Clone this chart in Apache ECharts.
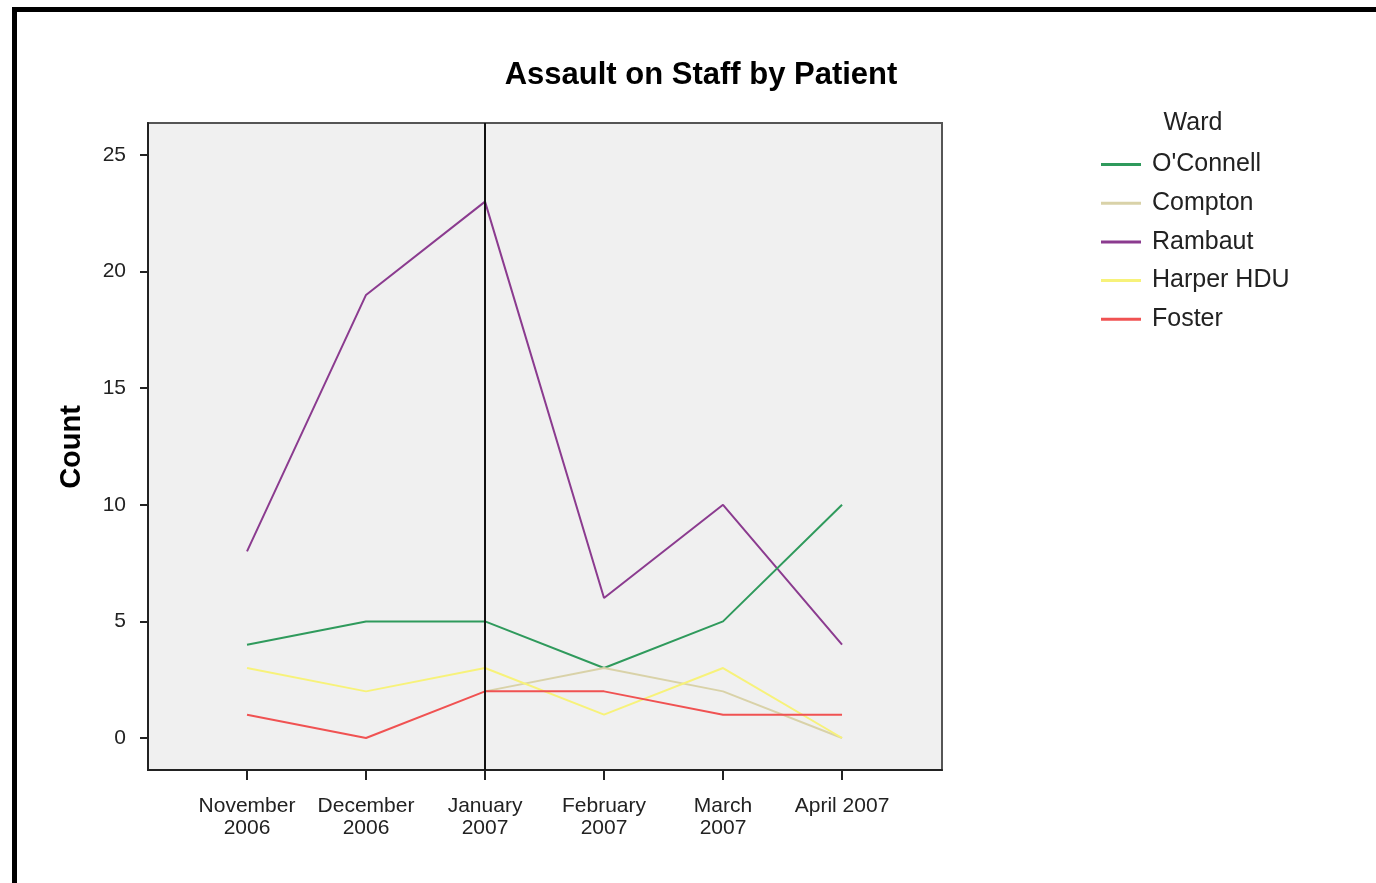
<!DOCTYPE html>
<html>
<head>
<meta charset="utf-8">
<script src="https://cdn.jsdelivr.net/npm/echarts@6/dist/echarts.min.js"></script>
<style>
html,body{margin:0;padding:0;background:#fff;}
#chart{width:1376px;height:883px;}
</style>
</head>
<body>
<div id="chart"></div>
<script>
const categories = ['November\n2006', 'December\n2006', 'January\n2007', 'February\n2007', 'March\n2007', 'April 2007'];
const oconnell = [4, 5, 5, 3, 5, 10];
const compton = [null, null, 2, 3, 2, 0];
const rambaut = [8, 19, 23, 6, 10, 4];
const harper = [3, 2, 3, 1, 3, 0];
const foster = [1, 0, 2, 2, 1, 1];
const yTicks = [0, 5, 10, 15, 20, 25];
const seriesNames = ["O'Connell", 'Compton', 'Rambaut', 'Harper HDU', 'Foster'];
const markerIndex = 2; // January 2007 reference line

const colors = ['#2f9a5c', '#d9d2a8', '#8b3b8f', '#f7f27a', '#f05252'];
const values = [oconnell, compton, rambaut, harper, foster];

function toPairs(arr) {
  return arr.map((v, i) => [i, v == null ? '-' : v]);
}

const chart = echarts.init(document.getElementById('chart'));
const FONT = '"Liberation Sans", Arial, sans-serif';

const series = seriesNames.map((name, k) => ({
  name: name,
  type: 'line',
  data: toPairs(values[k]),
  showSymbol: false,
  symbol: 'none',
  lineStyle: { color: colors[k], width: 2 },
  itemStyle: { color: colors[k] },
  z: 3,
  animation: false
}));
series[0].markLine = {
  silent: true,
  symbol: ['none', 'none'],
  label: { show: false },
  lineStyle: { color: '#111', width: 2, type: 'solid' },
  data: [{ xAxis: markerIndex }],
  animation: false
};
// draw order: Rambaut, O'Connell, Compton, Harper, Foster
const order = [2, 0, 1, 3, 4];
const orderedSeries = order.map(i => series[i]);

chart.setOption({
  backgroundColor: '#ffffff',
  animation: false,
  grid: {
    left: 148, top: 123, width: 794, height: 647,
    show: true, backgroundColor: '#f0f0f0', borderColor: '#555', borderWidth: 2
  },
  xAxis: {
    type: 'value',
    min: -0.832, max: 5.84,
    splitLine: { show: false },
    axisLine: { show: true, onZero: false, lineStyle: { color: '#222', width: 2 } },
    axisTick: { show: true, length: 10, lineStyle: { color: '#222', width: 2 }, customValues: [0, 1, 2, 3, 4, 5] },
    axisLabel: {
      customValues: [0, 1, 2, 3, 4, 5],
      formatter: v => categories[Math.round(v)],
      color: '#222', fontSize: 21, fontFamily: FONT, lineHeight: 22, margin: 25
    }
  },
  yAxis: {
    type: 'value',
    min: -1.372, max: 26.372,
    splitLine: { show: false },
    axisLine: { show: true, onZero: false, lineStyle: { color: '#222', width: 2 } },
    axisTick: { show: true, length: 8, lineStyle: { color: '#222', width: 2 }, customValues: yTicks },
    axisLabel: {
      customValues: yTicks,
      color: '#222', fontSize: 21, fontFamily: FONT, margin: 22
    }
  },
  legend: {
    orient: 'vertical',
    left: 1096, top: 147,
    itemWidth: 40, itemHeight: 3,
    itemGap: 13.7,
    icon: 'rect',
    data: seriesNames,
    textStyle: { color: '#222', fontSize: 25, fontFamily: FONT, padding: [0, 0, 0, 6], lineHeight: 25 },
    selectedMode: false
  },
  graphic: [
    { type: 'rect', shape: { x: 12, y: 7, width: 1364, height: 5 }, style: { fill: '#000' }, silent: true },
    { type: 'rect', shape: { x: 12, y: 7, width: 5, height: 876 }, style: { fill: '#000' }, silent: true },
    { type: 'text', x: 701, y: 75, style: { text: 'Assault on Staff by Patient', font: 'bold 31px ' + FONT, fill: '#000', align: 'center', verticalAlign: 'middle' } },
    { type: 'text', x: 72, y: 447, rotation: Math.PI / 2, style: { text: 'Count', font: 'bold 29px ' + FONT, fill: '#000', align: 'center', verticalAlign: 'middle' } },
    { type: 'text', x: 1193, y: 123, style: { text: 'Ward', font: '25px ' + FONT, fill: '#222', align: 'center', verticalAlign: 'middle' } }
  ],
  series: orderedSeries
});
</script>
</body>
</html>
